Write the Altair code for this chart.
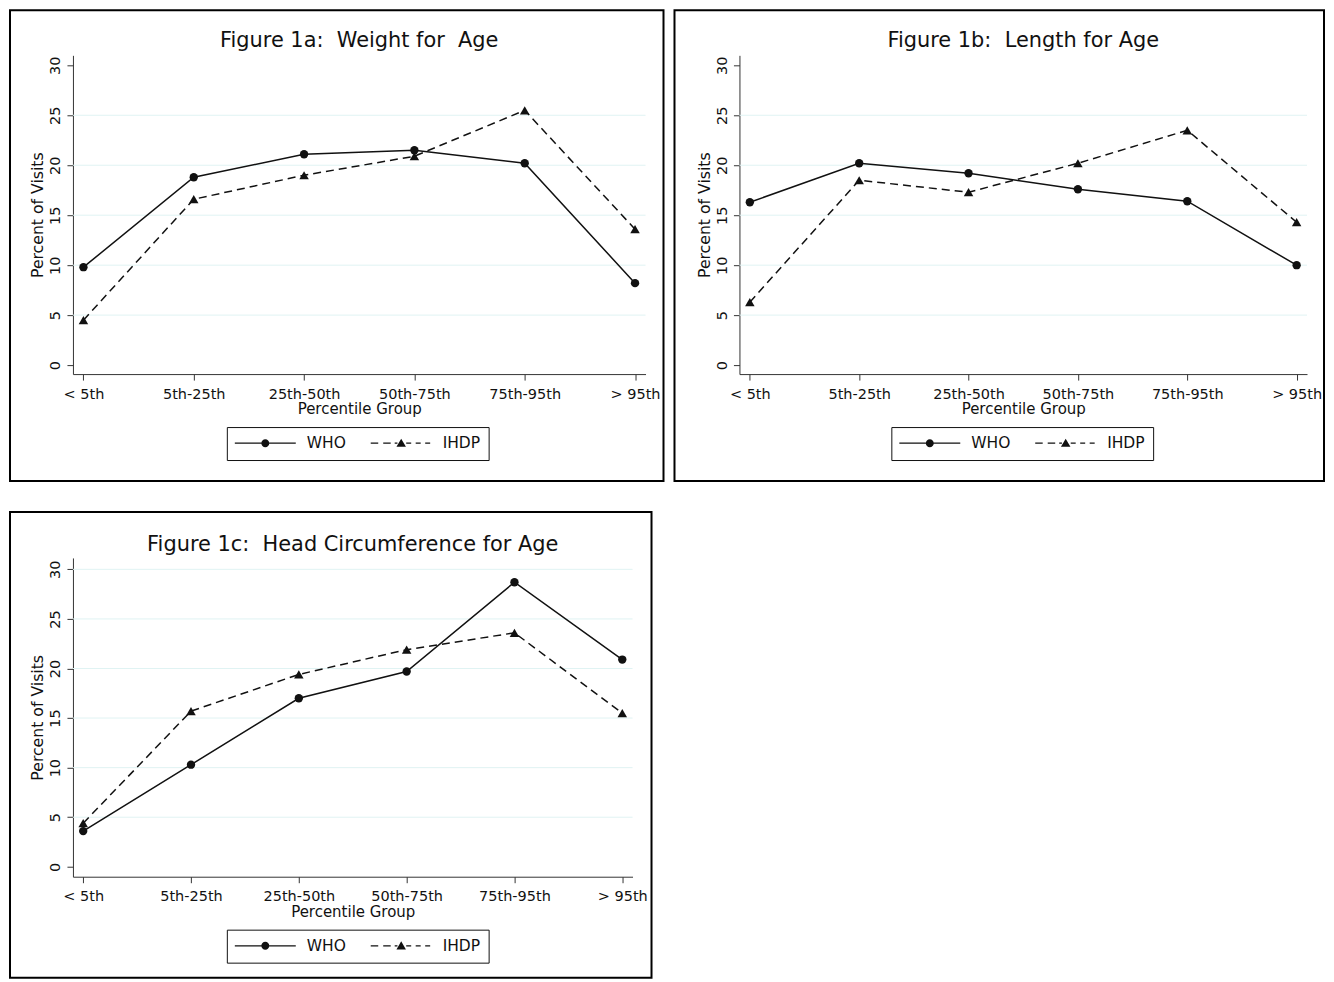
import altair as alt
import pandas as pd

# ---------------- data ----------------
categories = ["< 5th", "5th-25th", "25th-50th", "50th-75th", "75th-95th", "> 95th"]
series_names = ["WHO", "IHDP"]

weight_who = [9.8, 18.8, 21.1, 21.5, 20.2, 8.2]
weight_ihdp = [4.5, 16.6, 19.0, 20.9, 25.5, 13.6]

length_who = [16.3, 20.2, 19.2, 17.6, 16.4, 10.0]
length_ihdp = [6.3, 18.5, 17.3, 20.2, 23.5, 14.3]

head_who = [3.6, 10.3, 17.0, 19.7, 28.7, 20.9]
head_ihdp = [4.4, 15.7, 19.4, 21.9, 23.6, 15.5]

y_ticks = [0, 5, 10, 15, 20, 25, 30]
grid_ab = [5, 10, 15, 20, 25]
grid_c = [5, 10, 15, 20, 25, 30]

titles = [
    "Figure 1a:\u00a0 Weight for\u00a0 Age",
    "Figure 1b:\u00a0 Length for Age",
    "Figure 1c:\u00a0 Head Circumference for Age",
]

# ---------------- style ----------------
FONT = "DejaVu Sans"
INK = "#111111"
AXIS_INK = "#333333"
GRID = "#e0f3f3"

# legend symbols: line + marker, drawn as filled shapes
# (units of 5 px at symbolSize 100)
WHO_PATH = ("M-6.1,-0.13H-0.78V0.13H-6.1Z"
            "M0.78,-0.13H6.1V0.13H0.78Z"
            "M-0.8,0A0.8,0.8,0,1,1,0.8,0A0.8,0.8,0,1,1,-0.8,0Z")
IHDP_PATH = ("M-6.1,-0.13H-4.6V0.13H-6.1Z"
             "M-3.6,-0.13H-2.1V0.13H-3.6Z"
             "M-1.3,-0.13H-0.75V0.13H-1.3Z"
             "M-0.95,0.72L0,-0.9L0.95,0.72Z"
             "M1.0,-0.13H2.0V0.13H1.0Z"
             "M2.9,-0.13H3.9V0.13H2.9Z"
             "M4.8,-0.13H5.8V0.13H4.8Z")


def make_axis_x():
    return alt.Axis(labelAngle=0, tickSize=6, labelPadding=7, titlePadding=1,
                    labelFont=FONT, titleFont=FONT, labelFontSize=14.5,
                    titleFontSize=15, titleFontWeight="normal",
                    labelColor=INK, titleColor=INK, domainColor=AXIS_INK,
                    tickColor=AXIS_INK, grid=False, labelOverlap=False)


def make_axis_y():
    return alt.Axis(values=y_ticks, labelAngle=270, labelAlign="center",
                    labelBaseline="alphabetic", tickSize=6, labelPadding=7,
                    titlePadding=2, labelFont=FONT, titleFont=FONT,
                    labelFontSize=14.5, titleFontSize=15.7,
                    titleFontWeight="normal", labelColor=INK, titleColor=INK,
                    domainColor=AXIS_INK, tickColor=AXIS_INK, grid=False,
                    labelOverlap=False, labelFlush=False)


def panel(title, who, ihdp, width, height, ydom, grid_vals, frame, title_y,
          legend_x, legend_y):
    df = pd.DataFrame({
        "category": categories * 2,
        "series": [series_names[0]] * len(categories) + [series_names[1]] * len(categories),
        "value": who + ihdp,
    })
    x_enc = alt.X("category:N", sort=categories, title="Percentile Group",
                  scale=alt.Scale(type="point", padding=0.095, domain=categories),
                  axis=make_axis_x())
    y_enc = alt.Y("value:Q", title="Percent of Visits",
                  scale=alt.Scale(domain=ydom, nice=False, zero=False),
                  axis=make_axis_y())

    base = alt.Chart(df)
    who_base = base.transform_filter(alt.datum.series == series_names[0])
    ihdp_base = base.transform_filter(alt.datum.series == series_names[1])

    grid = alt.Chart(pd.DataFrame({"value": grid_vals})).mark_rule(
        color=GRID, strokeWidth=1).encode(y=y_enc)

    who_line = who_base.mark_line(color=INK, strokeWidth=1.5).encode(
        x=x_enc, y=y_enc)
    ihdp_line = ihdp_base.mark_line(color=INK, strokeWidth=1.5,
                                    strokeDash=[8, 5]).encode(x=x_enc, y=y_enc)

    who_pts = who_base.mark_point(
        shape="circle", filled=True, size=70, color=INK, opacity=1).encode(
        x=x_enc, y=y_enc)
    ihdp_pts = ihdp_base.mark_point(
        shape="triangle-up", filled=True, size=90, color=INK, opacity=1).encode(
        x=x_enc, y=y_enc)

    legend_layer = base.mark_point(
        filled=True, opacity=0, color=INK, fill=INK, strokeWidth=0).encode(
        x=x_enc, y=y_enc,
        shape=alt.Shape("series:N",
                        scale=alt.Scale(domain=series_names,
                                        range=[WHO_PATH, IHDP_PATH]),
                        legend=alt.Legend(
                            title=None, orient="none", direction="horizontal",
                            legendX=legend_x, legendY=legend_y,
                            strokeColor=INK, fillColor="white", padding=8,
                            symbolSize=100, symbolOpacity=1,
                            symbolFillColor=INK, symbolStrokeWidth=0,
                            symbolOffset=22.75, labelOffset=33.75,
                            columnPadding=24, labelFont=FONT,
                            labelFontSize=15.5, labelColor=INK)))

    frame_layer = alt.Chart(pd.DataFrame({"f": [0]})).mark_rect(
        fill="transparent", stroke="black", strokeWidth=2).encode(
        x=alt.value(frame[0]), x2=alt.value(width + frame[1]),
        y=alt.value(frame[2]), y2=alt.value(height + frame[3]))

    title_layer = alt.Chart(pd.DataFrame({"t": [title]})).mark_text(
        font=FONT, fontSize=20.9, color=INK, align="center",
        baseline="alphabetic").encode(
        text="t:N", x=alt.value(width / 2), y=alt.value(title_y))

    return alt.layer(grid, who_line, ihdp_line, who_pts, ihdp_pts,
                     legend_layer, frame_layer, title_layer).properties(
        width=width, height=height)


pa = panel(titles[0], weight_who, weight_ihdp, 573, 319, [-0.9, 31.0],
           grid_ab, (-63, 18, -45, 107), -8, 154, 372)
pb = panel(titles[1], length_who, length_ihdp, 568, 319, [-0.9, 31.0],
           grid_ab, (-65, 17, -45, 107), -8, 152, 372)
pc = panel(titles[2], head_who, head_ihdp, 560, 319, [-1.0, 31.15],
           grid_c, (-63, 19, -46, 101), -6.5, 154, 372)

top_row = alt.hconcat(pa, pb, spacing=7).resolve_scale(
    shape="independent").resolve_legend(shape="independent")

chart = alt.vconcat(top_row, pc, spacing=27).resolve_scale(
    shape="independent").resolve_legend(shape="independent").properties(
    padding=0, background="white").configure_view(stroke="transparent")

chart.save("out.html", embed_options={"renderer": "svg", "actions": False})
